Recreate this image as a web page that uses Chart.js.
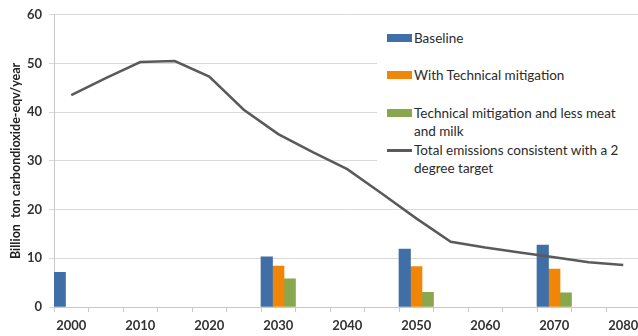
<!DOCTYPE html>
<html>
<head>
<meta charset="utf-8">
<script src="https://cdn.jsdelivr.net/npm/chart.js@4.4.1/dist/chart.umd.min.js"></script>
<style>
  body { margin: 0; background: #fff; }
  #wrap { position: relative; width: 638px; height: 336px; overflow: hidden; }
  #legend {
    position: absolute; left: 377px; top: 19px; width: 261px; height: 164px;
    background: #fff; font-family: Lato, sans-serif; font-size: 13.5px; color: #2b2b2b;
  }
  #legend .item { position: absolute; left: 10px; display: flex; align-items: flex-start; line-height: 18px; }
  #legend .swatch { width: 25px; flex: none; margin-right: 2px; }
  #legend .txt { width: 220px; }
</style>
</head>
<body>
<div id="wrap">
  <canvas id="emissionsChart" width="660" height="336"></canvas>
  <div id="legend"></div>
</div>
<script>
// Dados do gráfico
const years = ['2000', '2005', '2010', '2015', '2020', '2025', '2030', '2035', '2040',
               '2045', '2050', '2055', '2060', '2065', '2070', '2075', '2080'];
const baseline   = [7.1, null, null, null, null, null, 10.3, null, null, null, 11.9, null, null, null, 12.7, null, null];
const technical  = [null, null, null, null, null, null, 8.4, null, null, null, 8.3, null, null, null, 7.8, null, null];
const lessMeat   = [null, null, null, null, null, null, 5.8, null, null, null, 3.0, null, null, null, 2.9, null, null];
const twoDegree  = [43.5, 47.0, 50.3, 50.5, 47.3, 40.5, 35.5, 31.8, 28.3, 23.3, 18.2, 13.4, 12.2, 11.2, 10.2, 9.2, 8.6];
const yTicks = [0, 10, 20, 30, 40, 50, 60];

// centro vertical de cada linha da legenda, relativo à caixa da legenda
const legendRows = [19, 56, 94, 131];

// Legenda em HTML gerada a partir dos datasets
const htmlLegend = {
    id: 'htmlLegend',
    afterUpdate(chart) {
        const box = document.getElementById('legend');
        box.innerHTML = '';
        chart.data.datasets.forEach((ds, i) => {
            const item = document.createElement('div');
            item.className = 'item';
            item.style.top = (legendRows[i] - 9) + 'px';
            const sw = document.createElement('div');
            sw.className = 'swatch';
            if (ds.type === 'line') {
                sw.style.height = '2.5px';
                sw.style.marginTop = '8px';
                sw.style.background = ds.borderColor;
            } else {
                sw.style.height = '8px';
                sw.style.marginTop = '5px';
                sw.style.background = ds.backgroundColor;
            }
            const tx = document.createElement('div');
            tx.className = 'txt';
            tx.textContent = ds.label;
            item.appendChild(sw);
            item.appendChild(tx);
            box.appendChild(item);
        });
    }
};

const ctx = document.getElementById('emissionsChart');
const chart = new Chart(ctx, {
    type: 'bar',
    data: {
        labels: years,
        datasets: [{
            label: 'Baseline',
            data: baseline,
            backgroundColor: '#3f6fa6'
        }, {
            label: 'With Technical mitigation',
            data: technical,
            backgroundColor: '#f08508'
        }, {
            label: 'Technical mitigation and less meat and milk',
            data: lessMeat,
            backgroundColor: '#89a84e'
        }, {
            type: 'line',
            label: 'Total emissions consistent with a 2 degree target',
            data: twoDegree,
            borderColor: '#5a5a5a',
            borderWidth: 2.5,
            pointRadius: 0,
            tension: 0,
            order: -1
        }]
    },
    options: {
        responsive: false,
        animation: false,
        categoryPercentage: 1,
        barPercentage: 1,
        layout: { padding: { top: 12, right: 19.5, left: 0, bottom: 0 } },
        scales: {
            x: {
                offset: true,
                grid: { offset: true, drawOnChartArea: false, drawTicks: true, tickLength: 5, color: '#c8c8c8' },
                border: { color: '#c8c8c8' },
                ticks: {
                    autoSkip: false,
                    maxRotation: 0,
                    padding: 6,
                    color: '#333',
                    font: { family: 'Lato', size: 13, weight: 'bold' },
                    callback: function(value, index) {
                        return index % 2 === 0 ? years[index] : '';
                    }
                },
                afterFit: function(scale) { scale.height = 29; }
            },
            y: {
                min: yTicks[0],
                max: yTicks[yTicks.length - 1],
                grid: { color: '#d9d9d9', tickLength: 5 },
                border: { color: '#c8c8c8' },
                ticks: {
                    stepSize: 10,
                    padding: 7,
                    color: '#333',
                    font: { family: 'Lato', size: 13, weight: 'bold' }
                },
                title: {
                    display: true,
                    text: 'Billion  ton carbondioxide-eqv/year',
                    color: '#222',
                    padding: { top: 8, bottom: 0 },
                    font: { family: 'Lato', size: 12.5, weight: 'bold' }
                },
                afterFit: function(scale) { scale.width = 54; }
            }
        },
        plugins: {
            legend: { display: false },
            tooltip: { enabled: false }
        }
    },
    plugins: [htmlLegend]
});
</script>
</body>
</html>
